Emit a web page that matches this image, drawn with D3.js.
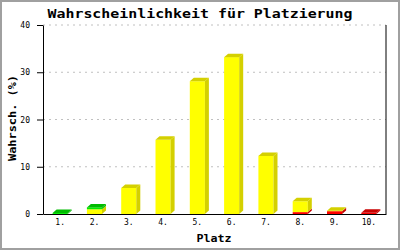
<!DOCTYPE html>
<html>
<head>
<meta charset="utf-8">
<script src="https://cdn.jsdelivr.net/npm/d3@7"></script>
<style>
  body { margin: 0; background: #fff; }
  svg { display: block; }
</style>
</head>
<body>
<script>
// data (probabilities in %)
const places = ["1.", "2.", "3.", "4.", "5.", "6.", "7.", "8.", "9.", "10."];
const redVals = [0, 0, 0, 0, 0, 0, 0, 0.4, 0.6, 0.25];
const yellowVals = [0, 1.0, 5.5, 15.7, 28.1, 33.2, 12.3, 2.3, 0.1, 0];
const greenVals = [0.2, 0.4, 0, 0, 0, 0, 0, 0, 0, 0];
const yTicks = [0, 10, 20, 30, 40];

const wSvg = 400, hSvg = 250;
const plotLeft = 43, plotRight = 386, plotTop = 25, plotBottom = 214;
const depthX = 4, depthY = 3.5;
const mono = "'DejaVu Sans Mono', 'Liberation Mono', monospace";

// bottom to top stacking order
const series = [
    { key: "red", values: redVals, front: "#ff0000", shade: "#c80000" },
    { key: "yellow", values: yellowVals, front: "#ffff00", shade: "#d4d000" },
    { key: "green", values: greenVals, front: "#00ee00", shade: "#00bb00" }
];

const svg = d3.select("body").append("svg")
    .attr("width", wSvg)
    .attr("height", hSvg);

svg.append("rect")
    .attr("x", 1).attr("y", 1)
    .attr("width", wSvg - 2).attr("height", hSvg - 2)
    .attr("fill", "#fff")
    .attr("stroke", "#a0a0a0")
    .attr("stroke-width", 2);

const x = d3.scaleBand(places, [plotLeft, plotRight])
    .paddingInner(0.56)
    .paddingOuter(0.28);
const y = d3.scaleLinear([0, 40], [plotBottom, plotTop]);

// grid
svg.append("g")
    .selectAll("line")
    .data(yTicks.filter(t => t > 0))
    .enter()
    .append("line")
    .attr("x1", plotLeft).attr("x2", plotRight)
    .attr("y1", d => y(d)).attr("y2", d => y(d))
    .attr("stroke", "#c0c0c0")
    .attr("stroke-dasharray", "2,4");

// stacked bars with a little 3d depth
let rows = places.map((p, i) => {
    let obj = { place: p };
    series.forEach(s => obj[s.key] = s.values[i]);
    return obj;
});
const stack = d3.stack().keys(series.map(s => s.key))(rows);

const bars = svg.append("g");
places.forEach((p, i) => {
    let x0 = x(p), x1 = x(p) + x.bandwidth();
    let topKey = null;
    stack.forEach((layer, li) => {
        let seg = layer[i];
        if (seg[1] - seg[0] <= 0) return;
        let s = series[li];
        let yb = y(seg[0]), yt = y(seg[1]);
        bars.append("rect")
            .attr("x", x0).attr("y", yt)
            .attr("width", x1 - x0).attr("height", yb - yt)
            .attr("fill", s.front);
        bars.append("polygon")
            .attr("points", [[x1, yb], [x1, yt], [x1 + depthX, yt - depthY], [x1 + depthX, yb - depthY]].join(" "))
            .attr("fill", s.shade);
        topKey = li;
    });
    if (topKey !== null) {
        let seg = stack[topKey][i];
        let yt = y(seg[1]);
        bars.append("polygon")
            .attr("points", [[x0, yt], [x0 + depthX, yt - depthY], [x1 + depthX, yt - depthY], [x1, yt]].join(" "))
            .attr("fill", series[topKey].shade);
    }
});

// axes frame
svg.append("line")
    .attr("x1", plotRight).attr("x2", plotRight)
    .attr("y1", plotTop).attr("y2", plotBottom)
    .attr("stroke", "#000");

const yAxis = d3.axisLeft(y).tickValues(yTicks).tickSize(6).tickSizeOuter(0);
svg.append("g")
    .attr("transform", `translate(${plotLeft}, 0)`)
    .call(yAxis)
    .call(g => g.selectAll("text")
        .attr("font-family", mono)
        .attr("font-size", "8px")
        .attr("fill", "#000")
        .attr("dx", "-4px"));

const xAxis = d3.axisBottom(x).tickSize(0).tickSizeOuter(0);
svg.append("g")
    .attr("transform", `translate(0, ${plotBottom})`)
    .call(xAxis)
    .call(g => g.selectAll("text")
        .attr("font-family", mono)
        .attr("font-size", "8px")
        .attr("fill", "#000")
        .attr("dy", "0.95em"));

svg.selectAll(".domain, .tick line").attr("stroke", "#000");

// titles
svg.append("text")
    .attr("x", 200)
    .attr("y", 17.5)
    .attr("text-anchor", "middle")
    .attr("font-family", mono)
    .attr("font-weight", "bold")
    .attr("font-size", "13px")
    .attr("textLength", 305)
    .attr("lengthAdjust", "spacingAndGlyphs")
    .text("Wahrscheinlichkeit für Platzierung");

svg.append("text")
    .attr("x", 214)
    .attr("y", 242)
    .attr("text-anchor", "middle")
    .attr("font-family", mono)
    .attr("font-weight", "bold")
    .attr("font-size", "10px")
    .attr("textLength", 35)
    .attr("lengthAdjust", "spacingAndGlyphs")
    .text("Platz");

svg.append("text")
    .attr("transform", "translate(16, 118) rotate(-90)")
    .attr("text-anchor", "middle")
    .attr("font-family", mono)
    .attr("font-weight", "bold")
    .attr("font-size", "10.5px")
    .attr("textLength", 86)
    .attr("lengthAdjust", "spacingAndGlyphs")
    .text("Wahrsch. (%)");
</script>
</body>
</html>
